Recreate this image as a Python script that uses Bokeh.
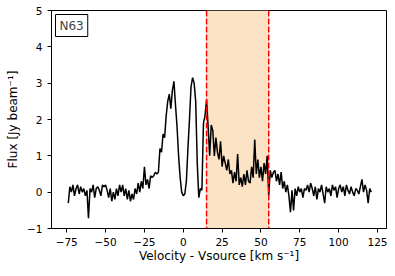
from bokeh.plotting import figure
from bokeh.models import Range1d, BoxAnnotation, Span, Label, FixedTicker
from bokeh.embed import file_html
from bokeh.resources import INLINE

velocity = list(range(-74, 122))
flux = [
    -0.3, 0.15, 0.0, 0.2, -0.1, 0.1, 0.2, -0.05, 0.15, 0.0,
    0.1, -0.1, 0.05, -0.72, 0.1, 0.0, 0.2, -0.15, 0.1, 0.15,
    0.05, -0.1, 0.2, 0.15, 0.2, 0.05, -0.15, 0.1, -0.25, 0.0,
    -0.2, 0.1, -0.1, 0.2, 0.0, 0.2, -0.1, 0.1, -0.2, 0.05,
    -0.25, -0.05, -0.2, 0.1, -0.05, 0.25, 0.0, 0.3, 0.1, 0.7,
    0.2, 0.35, 0.1, 0.45, 0.4, 0.45, 0.55, 0.5, 0.55, 1.2,
    1.1, 1.6, 1.5, 2.1, 2.5, 2.7, 2.3, 2.8, 3.05, 2.4,
    1.8, 1.0, 0.4, 0.0, -0.1, -0.05, 0.3, 1.2, 2.0, 2.9,
    3.15, 3.0, 2.5, 0.8, -0.15, 0.1, 0.05, 1.9, 2.1, 2.55,
    1.8, 1.0, 1.85, 1.7, 1.0, 1.5, 1.1, 0.9, 1.4, 0.7,
    1.0, 0.8, 0.6, 0.9, 0.5, 0.6, 0.25, 0.55, 0.3, 1.05,
    0.2, 0.4, 0.15, 0.5, 0.2, 0.6, 0.3, 0.25, 0.7, 0.4,
    1.45, 0.5, 0.9, 0.4, 0.7, 0.3, 0.8, 0.5, 1.0, -0.1,
    0.6, 0.4, 0.55, 0.6, 0.3, 0.5, 0.2, 0.55, 0.1, 0.3,
    0.0, 0.2, -0.1, -0.55, 0.05, -0.5, 0.1, -0.1, 0.15, 0.0,
    0.1, -0.15, 0.1, 0.05, 0.2, 0.0, 0.25, 0.1, -0.1, 0.15,
    -0.2, 0.1, 0.0, 0.2, -0.05, -0.3, 0.15, 0.0, 0.1, -0.1,
    0.2, 0.05, 0.15, -0.15, 0.1, 0.2, 0.0, 0.15, -0.1, 0.2,
    0.05, -0.05, 0.15, 0.0, -0.1, 0.1, 0.05, -0.05, 0.15, 0.35,
    0.0, 0.2, 0.05, -0.3, 0.1, 0.0,
]
region = [15, 55]
x_ticks = [-75, -50, -25, 0, 25, 50, 75, 100, 125]
y_ticks = [-1, 0, 1, 2, 3, 4, 5]
source_label = "N63"

FONT = "DejaVu Sans"

p = figure(width=390, height=272, output_backend="svg", toolbar_location=None,
           x_range=Range1d(-84.8, 130.8), y_range=Range1d(-1, 5),
           min_border_left=51, min_border_right=4, min_border_top=10, min_border_bottom=44)
p.grid.visible = False
p.outline_line_color = "black"
p.outline_line_width = 1
p.background_fill_color = "white"
p.border_fill_color = "white"

p.add_layout(BoxAnnotation(left=region[0], right=region[1], fill_color="#fde3c6",
                           fill_alpha=1.0, line_color=None, level="underlay"))

p.line(velocity, flux, line_color="black", line_width=1.5)

for r in region:
    p.add_layout(Span(location=r, dimension="height", line_color="red",
                      line_dash="6 2", line_width=1.5))

p.xaxis.ticker = FixedTicker(ticks=x_ticks)
p.yaxis.ticker = FixedTicker(ticks=y_ticks)
p.xaxis.major_label_overrides = {t: str(t).replace("-", "\u2212") for t in x_ticks}
p.yaxis.major_label_overrides = {t: str(t).replace("-", "\u2212") for t in y_ticks}
for ax in (p.xaxis, p.yaxis):
    ax.axis_line_color = "black"
    ax.major_tick_line_color = "black"
    ax.minor_tick_line_color = None
    ax.major_tick_out = 4
    ax.major_tick_in = 0
    ax.major_label_text_font = FONT
    ax.major_label_text_font_size = "10.5px"
    ax.major_label_text_color = "black"
    ax.axis_label_text_font = FONT
    ax.axis_label_text_font_size = "12px"
    ax.axis_label_text_font_style = "normal"
    ax.axis_label_text_color = "black"
p.xaxis.axis_label = "Velocity - Vsource [km s\u207b\u00b9]"
p.yaxis.axis_label = "Flux [Jy beam\u207b\u00b9]"
p.xaxis.axis_label_standoff = 0
p.yaxis.axis_label_standoff = 4

p.add_layout(Label(x=-84.8, y=5, text=source_label, text_font=FONT,
                   text_font_size="12px", text_align="left", text_baseline="top",
                   x_offset=4, y_offset=-4, padding=4,
                   border_line_color="black", border_line_width=1,
                   background_fill_color="white"))

open("out.html", "w").write(file_html(p, INLINE))
